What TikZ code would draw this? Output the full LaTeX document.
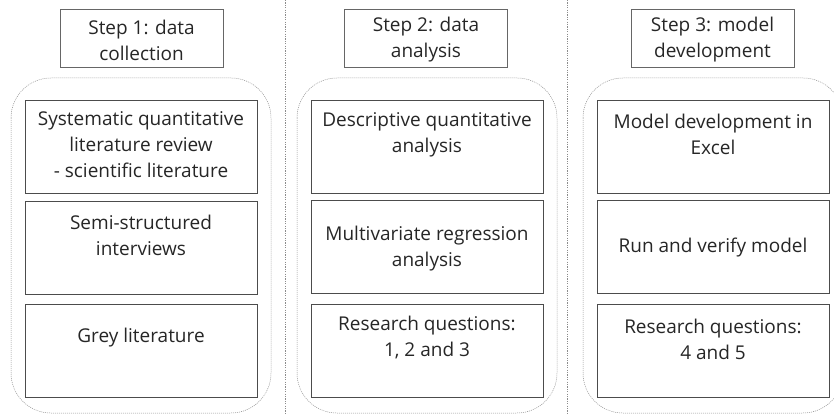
\documentclass[tikz,border=0pt]{standalone}
\usepackage{fontspec}
\setmainfont{Open Sans}
\begin{document}
\begin{tikzpicture}[x=1pt,y=-1pt,
  txt/.style={align=center,inner sep=0pt,text=black!85,font=\fontsize{19}{26}\selectfont},
  stepbox/.style={draw=black!60,line width=0.8pt,minimum width=163pt,minimum height=58pt,inner sep=0pt},
  itembox/.style={draw=black!70,line width=0.9pt,minimum width=232pt,minimum height=93pt,inner sep=0pt},
  group/.style={draw=black!45,dash pattern=on 1pt off 1pt,line width=0.5pt,rounded corners=40pt},
  sep/.style={draw=black!45,dash pattern=on 1.2pt off 1.2pt,line width=0.7pt}]
\useasboundingbox (0,0) rectangle (834,414);
% separators
\coordinate (s1t) at (285,0); \coordinate (s1b) at (285,414);
\coordinate (s2t) at (567,0); \coordinate (s2b) at (567,414);
\draw[sep] (s1t) -- (s1b);
\draw[sep] (s2t) -- (s2b);
% group outlines
\draw[group] (11,78) rectangle (271,413);
\draw[group] (297,78) rectangle (557,413);
\draw[group] (583,78) rectangle (843,413);
% headers
\node[stepbox] (h1) at (141.5,38) {};
\node[stepbox] (h2) at (426,38) {};
\node[stepbox] (h3) at (712.5,38) {};
\node[txt] (h1t) at (141.5,40) {Step 1: data\\collection};
\node[txt] (h2t) at (426,40) {Step 2: data\\analysis};
\node[txt] (h3t) at (712.5,40) {Step 3: model\\development};
% column 1
\node[itembox] (a1) at (141,146.5) {};
\node[itembox] (a2) at (141,247.5) {};
\node[itembox] (a3) at (141,350.5) {};
\node[txt] (a1t) at (141,145) {Systematic quantitative\\literature review\\- scientific literature};
\node[txt] (a2t) at (141,235.5) {Semi-structured\\interviews};
\node[txt] (a3t) at (141,338) {Grey literature};
% column 2
\node[itembox] (b1) at (427,147) {};
\node[itembox] (b2) at (427,247) {};
\node[itembox] (b3) at (427,350.5) {};
\node[txt] (b1t) at (427,134.5) {Descriptive quantitative\\analysis};
\node[txt] (b2t) at (427,248.5) {Multivariate regression\\analysis};
\node[txt] (b3t) at (427,338) {Research questions:\\1, 2 and 3};
% column 3
\node[itembox] (c1) at (713,147) {};
\node[itembox] (c2) at (713,247) {};
\node[itembox] (c3) at (713,350.5) {};
\node[txt] (c1t) at (713,134.5) {Model development in\\Excel};
\node[txt] (c2t) at (713,248) {Run and verify model};
\node[txt] (c3t) at (713,339.5) {Research questions:\\4 and 5};
\end{tikzpicture}
\end{document}
